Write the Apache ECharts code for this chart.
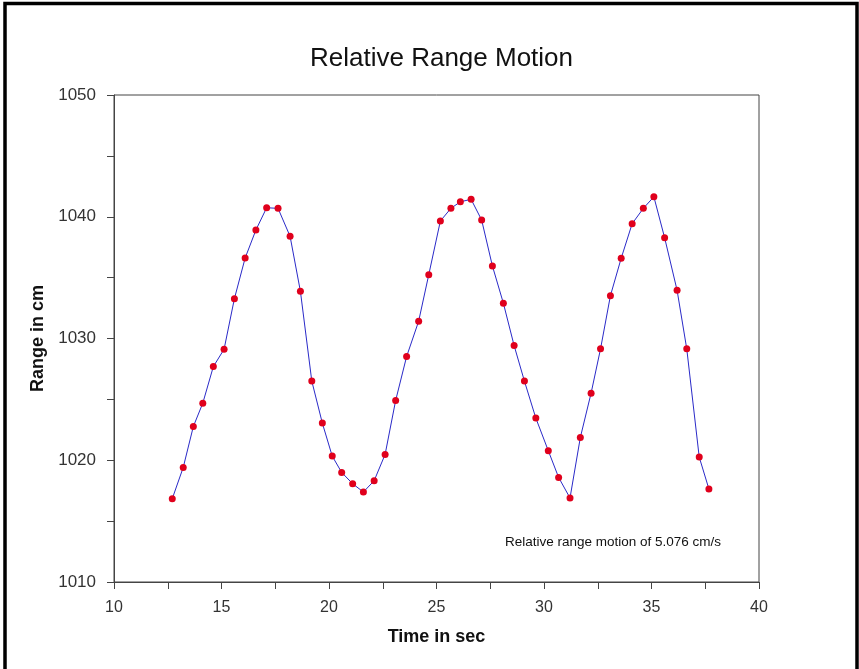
<!DOCTYPE html>
<html>
<head>
<meta charset="utf-8">
<script src="https://cdn.jsdelivr.net/npm/echarts@6/dist/echarts.min.js"></script>
<style>html,body{margin:0;padding:0;background:#fff}#c{width:859px;height:669px}</style>
</head>
<body>
<div id="c"></div>
<script>
const titleText = "Relative Range Motion";
const xName = "Time in sec";
const yName = "Range in cm";
const noteText = "Relative range motion of 5.076 cm/s";

const timeSec = [12.71,13.22,13.69,14.13,14.62,15.12,15.60,16.10,16.60,17.10,17.63,18.19,18.67,19.20,19.69,20.15,20.59,
  21.10,21.60,22.10,22.61,23.10,23.61,24.17,24.64,25.18,25.67,26.11,26.61,27.10,27.60,28.11,28.61,29.09,29.62,30.20,30.68,
  31.21,31.69,32.19,32.63,33.09,33.59,34.10,34.62,35.11,35.61,36.19,36.64,37.22,37.67];
const rangeCm = [1016.84,1019.41,1022.77,1024.69,1027.69,1029.12,1033.27,1036.61,1038.91,1040.74,1040.69,1038.39,1033.88,1026.50,1023.05,1020.34,1019.00,
  1018.07,1017.39,1018.32,1020.48,1024.91,1028.52,1031.42,1035.24,1039.65,1040.69,1041.23,1041.43,1039.73,1035.96,1032.90,1029.42,1026.50,1023.46,1020.78,1018.59,
  1016.90,1021.87,1025.51,1029.15,1033.52,1036.59,1039.43,1040.69,1041.64,1038.28,1033.96,1029.15,1020.26,1017.64];

const xMin = 10, xMax = 40, xStep = 5;
const yMin = 1010, yMax = 1050, yStep = 10;

const pts = timeSec.map((t, i) => [t, rangeCm[i]]);
const FONT = "'Liberation Sans', Arial, sans-serif";

const chart = echarts.init(document.getElementById('c'), null, {renderer: 'canvas'});
chart.setOption({
  animation: false,
  backgroundColor: '#fff',
  title: {
    text: titleText, left: 305, top: 41,
    textStyle: {fontFamily: FONT, fontSize: 26, fontWeight: 'normal', color: '#111'}
  },
  grid: {left: 114, top: 95, right: 100, bottom: 87, show: true, borderColor: '#444', borderWidth: 1, backgroundColor: 'transparent'},
  xAxis: {
    type: 'value', min: xMin, max: xMax, interval: xStep,
    name: xName, nameLocation: 'middle', nameGap: 46,
    nameTextStyle: {fontFamily: FONT, fontSize: 18, fontWeight: 'bold', color: '#111'},
    axisLine: {show: true, lineStyle: {color: '#444', width: 1}},
    axisTick: {show: true, inside: false, length: 7, lineStyle: {color: '#444'}},
    minorTick: {show: true, splitNumber: 2, length: 7, lineStyle: {color: '#444'}},
    splitLine: {show: false},
    axisLabel: {fontFamily: FONT, fontSize: 16, color: '#333', margin: 18}
  },
  yAxis: {
    type: 'value', min: yMin, max: yMax, interval: yStep,
    name: yName, nameLocation: 'middle', nameGap: 57, nameRotate: 90,
    nameTextStyle: {fontFamily: FONT, fontSize: 18, fontWeight: 'bold', color: '#111'},
    axisLine: {show: true, lineStyle: {color: '#444', width: 1}},
    axisTick: {show: true, inside: false, length: 7, lineStyle: {color: '#444'}},
    minorTick: {show: true, splitNumber: 2, length: 7, lineStyle: {color: '#444'}},
    splitLine: {show: false},
    axisLabel: {fontFamily: FONT, fontSize: 17, color: '#333', margin: 18, formatter: v => String(v)}
  },
  series: [{
    type: 'line', data: pts,
    symbol: 'circle', symbolSize: 7,
    itemStyle: {color: '#e0001c', borderWidth: 0},
    lineStyle: {color: '#2a2ac8', width: 1},
    z: 3
  }],
  graphic: [
    {type: 'text', left: 505, top: 535, style: {text: noteText, font: '13.5px ' + FONT, fill: '#111'}},
    {type: 'rect', shape: {x: 5, y: 3.5, width: 852, height: 720}, style: {fill: 'none', stroke: '#000', lineWidth: 3.5}, z: 10}
  ]
});
</script>
</body>
</html>
